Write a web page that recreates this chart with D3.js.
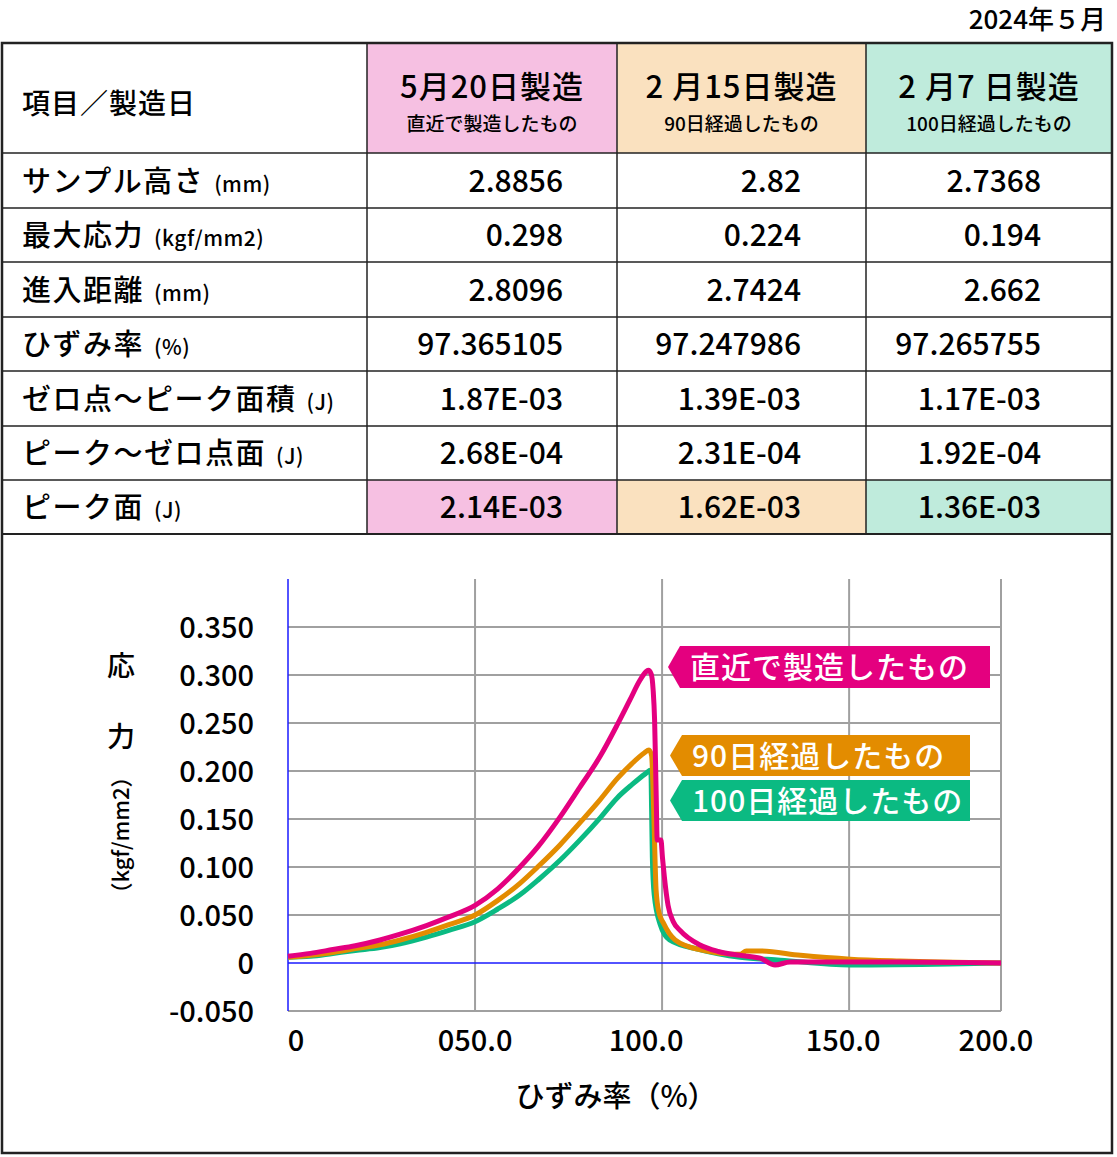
<!DOCTYPE html>
<html><head><meta charset="utf-8">
<script src="https://cdn.jsdelivr.net/npm/d3@7"></script>
<style>
body{margin:0;background:#fff;font-family:"Noto Sans CJK JP","Noto Sans",sans-serif;}
</style></head><body>
<svg id="c" width="1117" height="1157"></svg>
<script>
// ----------------
// Data
// ----------------
const colHeads = [["5月20日製造","直近で製造したもの"],["2 月15日製造","90日経過したもの"],["2 月7 日製造","100日経過したもの"]];
const rowLabels = [["サンプル高さ","(mm)"],["最大応力","(kgf/mm2)"],["進入距離","(mm)"],["ひずみ率","(%)"],["ゼロ点～ピーク面積","(J)"],["ピーク～ゼロ点面","(J)"],["ピーク面","(J)"]];
const tableValues = [
  ["2.8856","2.82","2.7368"],
  ["0.298","0.224","0.194"],
  ["2.8096","2.7424","2.662"],
  ["97.365105","97.247986","97.265755"],
  ["1.87E-03","1.39E-03","1.17E-03"],
  ["2.68E-04","2.31E-04","1.92E-04"],
  ["2.14E-03","1.62E-03","1.36E-03"]
];
const seriesNames = ["直近で製造したもの","90日経過したもの","100日経過したもの"];
const pinkSeries = [[0,0.007],[6,0.010],[12,0.014],[18,0.018],[24.6,0.024],[30,0.030],[37,0.039],[43,0.048],[50,0.060],[56,0.077],[62,0.100],[67,0.122],[72.7,0.152],[78,0.183],[83.4,0.215],[88,0.248],[91.4,0.274],[94,0.294],[95.6,0.303],[96.3,0.305],[97.1,0.301],[97.6,0.285],[98.0,0.253],[98.4,0.180],[98.7,0.128],[99.7,0.128],[100.1,0.110],[100.6,0.090],[101.6,0.060],[103,0.043],[104.8,0.034],[110,0.019],[115,0.012],[120.9,0.008],[126.2,0.005],[130.2,-0.002],[134.2,0.001],[142,0.001],[163.6,0.001],[190.6,0]];
const orangeSeries = [[0,0.006],[6,0.008],[12,0.011],[18,0.015],[24.6,0.019],[30,0.024],[37,0.032],[43,0.040],[50,0.050],[56,0.065],[62,0.083],[67,0.101],[72.7,0.123],[78,0.146],[83.4,0.170],[88,0.192],[92,0.208],[95.3,0.219],[96.5,0.222],[97.2,0.216],[97.6,0.180],[97.9,0.139],[98.4,0.076],[99.2,0.052],[100.3,0.042],[103.5,0.024],[110,0.014],[120.9,0.009],[122.5,0.0125],[126.2,0.0125],[137,0.008],[150.3,0.004],[163.6,0.002],[190.6,0]];
const greenSeries = [[0,0.006],[6,0.007],[12,0.010],[18,0.013],[24.6,0.016],[30,0.020],[37,0.027],[43,0.034],[50,0.043],[56,0.056],[62,0.071],[67,0.087],[72.7,0.107],[78,0.128],[83.4,0.151],[88,0.172],[92,0.186],[95.5,0.197],[97,0.201],[97.2,0.160],[97.4,0.110],[97.9,0.071],[99.5,0.040],[102,0.024],[110,0.014],[120.9,0.006],[131.6,0.003],[150.3,-0.002],[177,-0.001],[190.6,0]];
const xTicks = [0,50,100,150,190.6];
const xTickLabels = ["0","050.0","100.0","150.0","200.0"];
const yTicks = [-0.05,0,0.05,0.1,0.15,0.2,0.25,0.3,0.35];
const yTickLabels = ["-0.050","0","0.050","0.100","0.150","0.200","0.250","0.300","0.350"];

const colors = ["#e4007f","#e38c00","#0bba82"];
const fills = ["#f6c0e2","#fae1bf","#bfebdc"];

const svg = d3.select("#c");

// ----------------
// Table
// ----------------
const colX = [2,367,617,866,1112];
const rowY = [43,153,208,262,317,371,426,480,534];

svg.append("text").attr("x",1106).attr("y",29).attr("text-anchor","end")
  .attr("font-size",26).attr("font-weight",500).text("2024年５月");

for (let c = 0; c < 3; c++) {
  svg.append("rect").attr("x",colX[c+1]).attr("y",rowY[0]).attr("width",colX[c+2]-colX[c+1]).attr("height",rowY[1]-rowY[0]).attr("fill",fills[c]);
  svg.append("rect").attr("x",colX[c+1]).attr("y",rowY[7]).attr("width",colX[c+2]-colX[c+1]).attr("height",rowY[8]-rowY[7]).attr("fill",fills[c]);
  const cx = (colX[c+1]+colX[c+2])/2;
  svg.append("text").attr("x",cx).attr("y",98).attr("text-anchor","middle").attr("font-size",31).attr("font-weight",500).attr("letter-spacing",1).text(colHeads[c][0]);
  svg.append("text").attr("x",cx).attr("y",131).attr("text-anchor","middle").attr("font-size",19).attr("font-weight",500).text(colHeads[c][1]);
}
svg.append("text").attr("x",22).attr("y",114).attr("font-size",28).attr("font-weight",500).attr("letter-spacing",1).text("項目／製造日");

const valX = [563,801,1041];
rowLabels.forEach((r,i) => {
  const yb = (rowY[i+1]+rowY[i+2])/2 + 11;
  const t = svg.append("text").attr("x",22).attr("y",yb).attr("font-size",29).attr("font-weight",500).attr("letter-spacing",1.5);
  t.append("tspan").text(r[0]);
  t.append("tspan").attr("font-size",21).attr("dx",10).attr("letter-spacing",0.5).text(r[1]);
  tableValues[i].forEach((v,j) => {
    svg.append("text").attr("x",valX[j]).attr("y",yb).attr("text-anchor","end").attr("font-size",30).attr("font-weight",500).text(v);
  });
});
rowY.forEach((y,i) => {
  if (i==0 || i==8) return;
  svg.append("line").attr("x1",2).attr("x2",1112).attr("y1",y).attr("y2",y).attr("stroke","#222").attr("stroke-width",1.5);
});
svg.append("line").attr("x1",2).attr("x2",1112).attr("y1",534).attr("y2",534).attr("stroke","#222").attr("stroke-width",2);
colX.slice(1,4).forEach(x => svg.append("line").attr("x1",x).attr("x2",x).attr("y1",43).attr("y2",534).attr("stroke","#222").attr("stroke-width",1.5));
svg.append("rect").attr("x",2).attr("y",43).attr("width",1110).attr("height",1110).attr("fill","none").attr("stroke","#222").attr("stroke-width",2.5);

// ----------------
// Chart
// ----------------
const x = d3.scaleLinear().domain([0,190.6]).range([288,1001]);
const y = d3.scaleLinear().domain([-0.05,0.4]).range([1011,579]);

const grid = svg.append("g").attr("stroke","#a0a0a0").attr("stroke-width",2);
yTicks.forEach(v => { if (v!==0) grid.append("line").attr("x1",x(0)).attr("x2",x(190.6)).attr("y1",y(v)).attr("y2",y(v)); });
xTicks.forEach(v => { if (v!==0) grid.append("line").attr("x1",x(v)).attr("x2",x(v)).attr("y1",y(0.4)).attr("y2",y(-0.05)); });
svg.append("line").attr("x1",x(0)).attr("x2",x(190.6)).attr("y1",y(0)).attr("y2",y(0)).attr("stroke","#1a1aff").attr("stroke-width",1.5);
svg.append("line").attr("x1",x(0)).attr("x2",x(0)).attr("y1",y(0.4)).attr("y2",y(-0.05)).attr("stroke","#1a1aff").attr("stroke-width",1.5);

yTicks.forEach((v,i) => svg.append("text").attr("x",254).attr("y",y(v)+11).attr("text-anchor","end").attr("font-size",29).attr("font-weight",500).text(yTickLabels[i]));
const xLabelShift = [8,0,-16,-6,-5];
xTicks.forEach((v,i) => svg.append("text").attr("x",x(v)+xLabelShift[i]).attr("y",1051).attr("text-anchor","middle").attr("font-size",29).attr("font-weight",500).text(xTickLabels[i]));

svg.append("text").attr("x",121).attr("y",676).attr("text-anchor","middle").attr("font-size",28).attr("font-weight",500).text("応");
svg.append("text").attr("x",121).attr("y",747).attr("text-anchor","middle").attr("font-size",28).attr("font-weight",500).text("力");
svg.append("text").attr("transform","translate(129,835) rotate(-90)").attr("text-anchor","middle").attr("font-size",22).attr("font-weight",500).text("（kgf/mm2）");
svg.append("text").attr("x",616).attr("y",1107).attr("text-anchor","middle").attr("font-size",29).attr("font-weight",500).text("ひずみ率（%）");

const line = d3.line().x(d => x(d[0])).y(d => y(d[1])).curve(d3.curveMonotoneX);
[greenSeries, orangeSeries, pinkSeries].forEach((s,i) => {
  svg.append("path").datum(s).attr("d",line).attr("fill","none")
    .attr("stroke",colors[2-i]).attr("stroke-width",5).attr("stroke-linejoin","round");
});

// legend tags
const tags = [[668,990,646,688],[670,970,735,776],[670,970,780,821]];
tags.forEach((t,i) => {
  const [l,r,t0,b] = t, m = (t0+b)/2;
  svg.append("path").attr("d",`M${l},${m}L${l+12},${t0}L${r},${t0}L${r},${b}L${l+12},${b}Z`).attr("fill",colors[i]);
  svg.append("text").attr("x",i==0?690:692).attr("y",m+11).attr("fill","#fff").attr("font-size",30).attr("font-weight",500).attr("letter-spacing",1).text(seriesNames[i]);
});
</script></body></html>
